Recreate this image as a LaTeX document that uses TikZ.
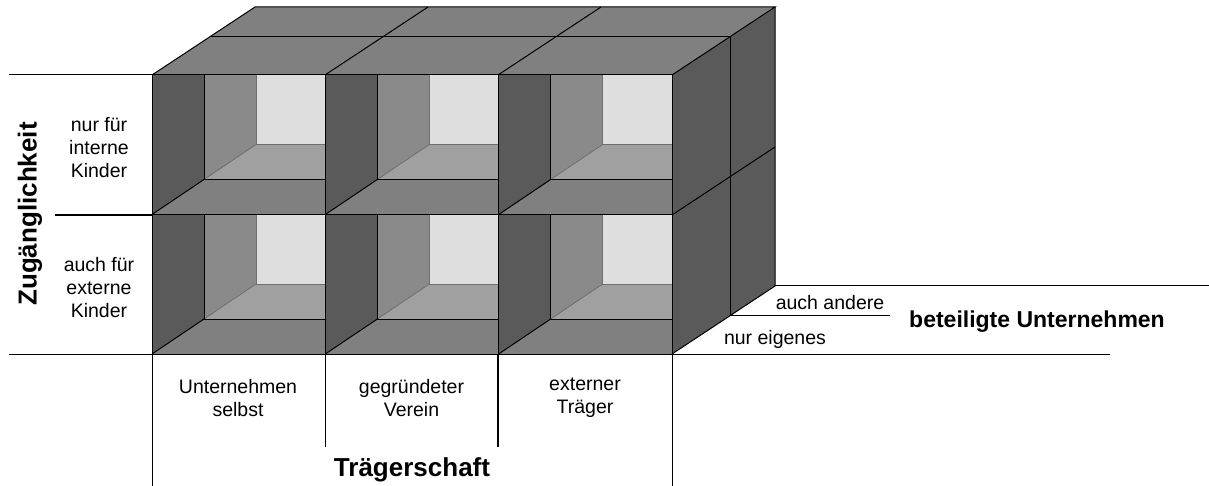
\documentclass[tikz,border=0pt]{standalone}
\usepackage{fontspec}
\setmainfont{Liberation Sans}
\definecolor{dk}{HTML}{5A5A5A}
\definecolor{md}{HTML}{8A8A8A}
\definecolor{lt}{HTML}{DEDEDE}
\definecolor{fl}{HTML}{A0A0A0}
\definecolor{tp}{HTML}{808080}
\definecolor{il}{HTML}{6E6E6E}
\begin{document}
\begin{tikzpicture}[x=1pt,y=-1pt,
  edge/.style={draw=black,line width=1pt,line join=miter},
  inner/.style={draw=il,line width=0.8pt},
  lbl/.style={font=\fontsize{19.5}{23}\selectfont,align=center,inner sep=0pt},
  big/.style={font=\fontsize{26}{30}\selectfont\bfseries,inner sep=0pt},
  mid/.style={font=\fontsize{23}{27}\selectfont\bfseries,inner sep=0pt},
  axis/.style={draw=black,line width=1pt}]
\useasboundingbox (0,0) rectangle (1209,486);
% top face
\fill[tp] (152,75) -- (255,7) -- (775,7) -- (672,75) -- cycle;
% right face
\fill[dk] (672,75) -- (775,7) -- (775,286) -- (672,354) -- cycle;
% cells
\foreach \i in {0,1,2}{
  \foreach \j in {0,1}{
    \pgfmathsetmacro{\xa}{152+173.33*\i}
    \pgfmathsetmacro{\ya}{75+139.5*\j}
    \pgfmathsetmacro{\xb}{\xa+173.33}
    \pgfmathsetmacro{\yb}{\ya+139.5}
    \begin{scope}[shift={(\xa,\ya)}]
      \fill[lt] (104,0) rectangle (173.33,69.5);
      \fill[fl] (52,104.5) -- (104,69.5) -- (173.33,69.5) -- (173.33,104.5) -- cycle;
      \fill[md] (52,0) -- (104,0) -- (104,69.5) -- (52,104.5) -- cycle;
      \fill[dk] (0,0) -- (52,0) -- (52,104.5) -- (0,139.5) -- cycle;
      \fill[tp] (0,139.5) -- (52,104.5) -- (173.33,104.5) -- (173.33,139.5) -- cycle;
      \draw[inner] (104,0) -- (104,69.5) -- (173.33,69.5);
      \draw[inner] (104,69.5) -- (52,104.5);
      \draw[edge] (52,0) -- (52,104.5) -- (173.33,104.5);
      \draw[edge] (0,139.5) -- (52,104.5);
    \end{scope}
  }
}
% cell grid
\draw[edge] (152,75) rectangle (672,354);
\draw[edge] (152,215) -- (672,215);
\draw[edge] (325,75) -- (325,354);
\draw[edge] (498,75) -- (498,354);
% top face lines
\draw[edge] (152,75) -- (255,7) -- (775,7) -- (672,75);
\draw[edge] (210,37) -- (730,37);
\draw[edge] (325,75) -- (428,7);
\draw[edge] (498,75) -- (601,7);
% right face lines
\draw[edge] (775,7) -- (775,286) -- (672,354);
\draw[edge] (730,37) -- (730,316);
\draw[edge] (672,215) -- (775,147);
% axes
\coordinate (tl) at (9,75);
\coordinate (ml) at (55,215);
\coordinate (bl) at (9,354);
\coordinate (br) at (1110,354);
\coordinate (rt1) at (775,285);
\coordinate (rt2) at (1209,285);
\coordinate (rm1) at (730,315);
\coordinate (rm2) at (890,315);
\draw[axis] (tl) -- (152,75);
\draw[axis,line width=2pt] (ml) -- (152,215);
\draw[axis] (bl) -- (br);
\draw[axis] (rt1) -- (rt2);
\draw[axis] (rm1) -- (rm2);
\draw[axis] (152,354) -- (152,486);
\draw[axis] (672,354) -- (672,486);
\draw[axis] (325,354) -- (325,447);
\draw[axis,line width=2pt] (498,354) -- (498,447);
% labels
\node[big,rotate=90] (zug) at (30,214) {Zugänglichkeit};
\node[lbl] (int) at (99,148) {nur für\\interne\\Kinder};
\node[lbl] (ext) at (99,288) {auch für\\externe\\Kinder};
\node[lbl] (u1) at (238,398) {Unternehmen\\selbst};
\node[lbl] (u2) at (411.5,398) {gegründeter\\Verein};
\node[lbl] (u3) at (585,398) {externer\\Träger};
\node[big] (tr) at (412,470) {Trägerschaft};
\node[lbl,anchor=base] (aa) at (830,309) {auch andere};
\node[lbl,anchor=base] (ne) at (775,344) {nur eigenes};
\node[mid,anchor=base] (bu) at (1037,327) {beteiligte Unternehmen};
\end{tikzpicture}
\end{document}
